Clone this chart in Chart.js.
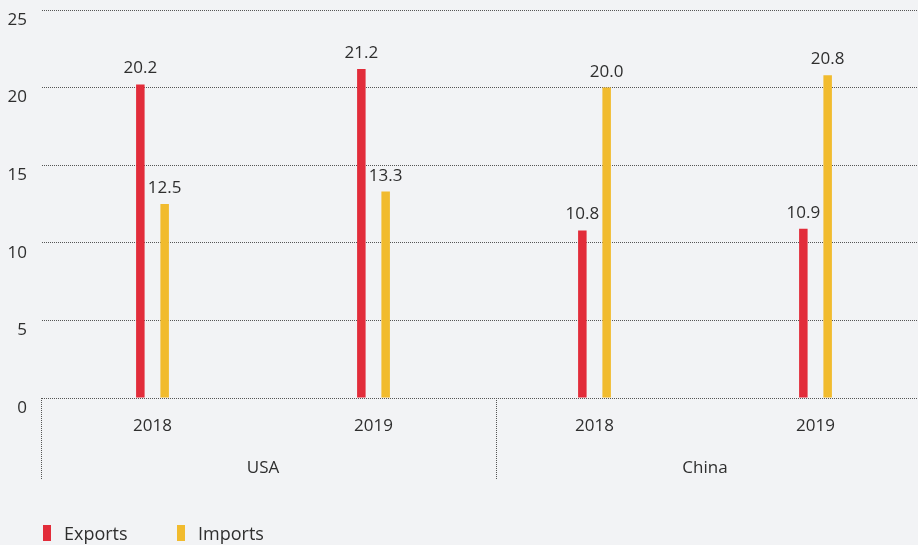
<!DOCTYPE html>
<html>
<head>
<meta charset="utf-8">
<script src="https://cdn.jsdelivr.net/npm/chart.js@4.4.1/dist/chart.umd.min.js"></script>
<style>
  html, body { margin: 0; padding: 0; background: #f2f3f5; overflow: hidden; }
  #wrap { width: 930px; height: 545px; }
</style>
</head>
<body>
<div id="wrap"><canvas id="tradeChart"></canvas></div>
<script>
const years = ["2018", "2019", "2018", "2019"];
const countries = ["USA", "China"];
const exportsData = [20.2, 21.2, 10.8, 10.9];
const importsData = [12.5, 13.3, 20.0, 20.8];
const yTicks = [0, 5, 10, 15, 20, 25];

const red = "#e22c3a";
const yellow = "#f1bb2e";
const textColor = "#2e2e2e";
const gridColor = "#555555";
const fontFamily = "'Open Sans', 'Noto Sans', sans-serif";

// value above each bar
const valueLabels = {
    id: "valueLabels",
    afterDatasetsDraw(chart) {
        const ctx = chart.ctx;
        ctx.save();
        ctx.font = "17px " + fontFamily;
        ctx.fillStyle = textColor;
        ctx.textAlign = "center";
        ctx.textBaseline = "alphabetic";
        chart.data.datasets.forEach((ds, i) => {
            chart.getDatasetMeta(i).data.forEach((bar, j) => {
                ctx.fillText(ds.data[j].toFixed(1), bar.x, bar.y - 11);
            });
        });
        ctx.restore();
    },
};

// second row of the x axis: country names and dotted separators
const groupAxis = {
    id: "groupAxis",
    afterDraw(chart) {
        const ctx = chart.ctx;
        const x = chart.scales.x;
        const area = chart.chartArea;
        const seps = [
            area.left,
            (x.getPixelForValue(1) + x.getPixelForValue(2)) / 2 + 13,
            area.right,
        ];
        ctx.save();
        ctx.strokeStyle = gridColor;
        ctx.lineWidth = 1;
        ctx.setLineDash([1, 1]);
        seps.forEach((sx) => {
            const px = Math.round(sx) - 0.5;
            ctx.beginPath();
            ctx.moveTo(px, area.bottom);
            ctx.lineTo(px, area.bottom + 82);
            ctx.stroke();
        });
        ctx.setLineDash([]);
        ctx.font = "17px " + fontFamily;
        ctx.fillStyle = textColor;
        ctx.textAlign = "center";
        ctx.textBaseline = "alphabetic";
        countries.forEach((name, i) => {
            const cx = (x.getPixelForValue(i * 2) + x.getPixelForValue(i * 2 + 1)) / 2;
            ctx.fillText(name, cx, area.bottom + 75);
        });
        ctx.restore();
    },
};

// legend at the bottom left with tall narrow swatches
const bottomLegend = {
    id: "bottomLegend",
    afterDraw(chart) {
        const ctx = chart.ctx;
        const items = chart.data.datasets;
        const starts = [43, 177];
        ctx.save();
        ctx.font = "18px " + fontFamily;
        ctx.textBaseline = "alphabetic";
        ctx.textAlign = "left";
        items.forEach((ds, i) => {
            ctx.fillStyle = ds.backgroundColor;
            ctx.fillRect(starts[i], 525, 8, 16);
            ctx.fillStyle = textColor;
            ctx.fillText(ds.label, starts[i] + 21, 540);
        });
        ctx.restore();
    },
};

const tradeChart = new Chart(document.getElementById("tradeChart"), {
    type: "bar",
    data: {
        labels: years,
        datasets: [
            {
                label: "Exports",
                data: exportsData,
                backgroundColor: red,
                categoryPercentage: 0.22,
                barPercentage: 0.35,
            },
            {
                label: "Imports",
                data: importsData,
                backgroundColor: yellow,
                categoryPercentage: 0.22,
                barPercentage: 0.35,
            },
        ],
    },
    options: {
        responsive: true,
        maintainAspectRatio: false,
        animation: false,
        layout: { padding: { top: 10, right: 4, left: 0, bottom: 0 } },
        plugins: {
            legend: { display: false },
            tooltip: { enabled: false },
        },
        scales: {
            x: {
                grid: { display: false },
                border: { display: false },
                ticks: {
                    color: textColor,
                    font: { family: fontFamily, size: 17 },
                    padding: 10,
                },
                afterFit(scale) {
                    scale.height = 147;
                    scale.paddingLeft = 0;
                    scale.paddingRight = 0;
                },
            },
            y: {
                min: 0,
                max: 25,
                afterBuildTicks(scale) {
                    scale.ticks = yTicks.map((v) => ({ value: v }));
                },
                grid: {
                    color: gridColor,
                    lineWidth: 1,
                    drawTicks: false,
                },
                border: { display: false, dash: [1, 1] },
                ticks: {
                    color: textColor,
                    font: { family: fontFamily, size: 17 },
                    padding: 15,
                    labelOffset: 10,
                },
                afterFit(scale) {
                    scale.width = 42;
                    scale.paddingTop = 0;
                    scale.paddingBottom = 0;
                },
            },
        },
    },
    plugins: [valueLabels, groupAxis, bottomLegend],
});
</script>
</body>
</html>
